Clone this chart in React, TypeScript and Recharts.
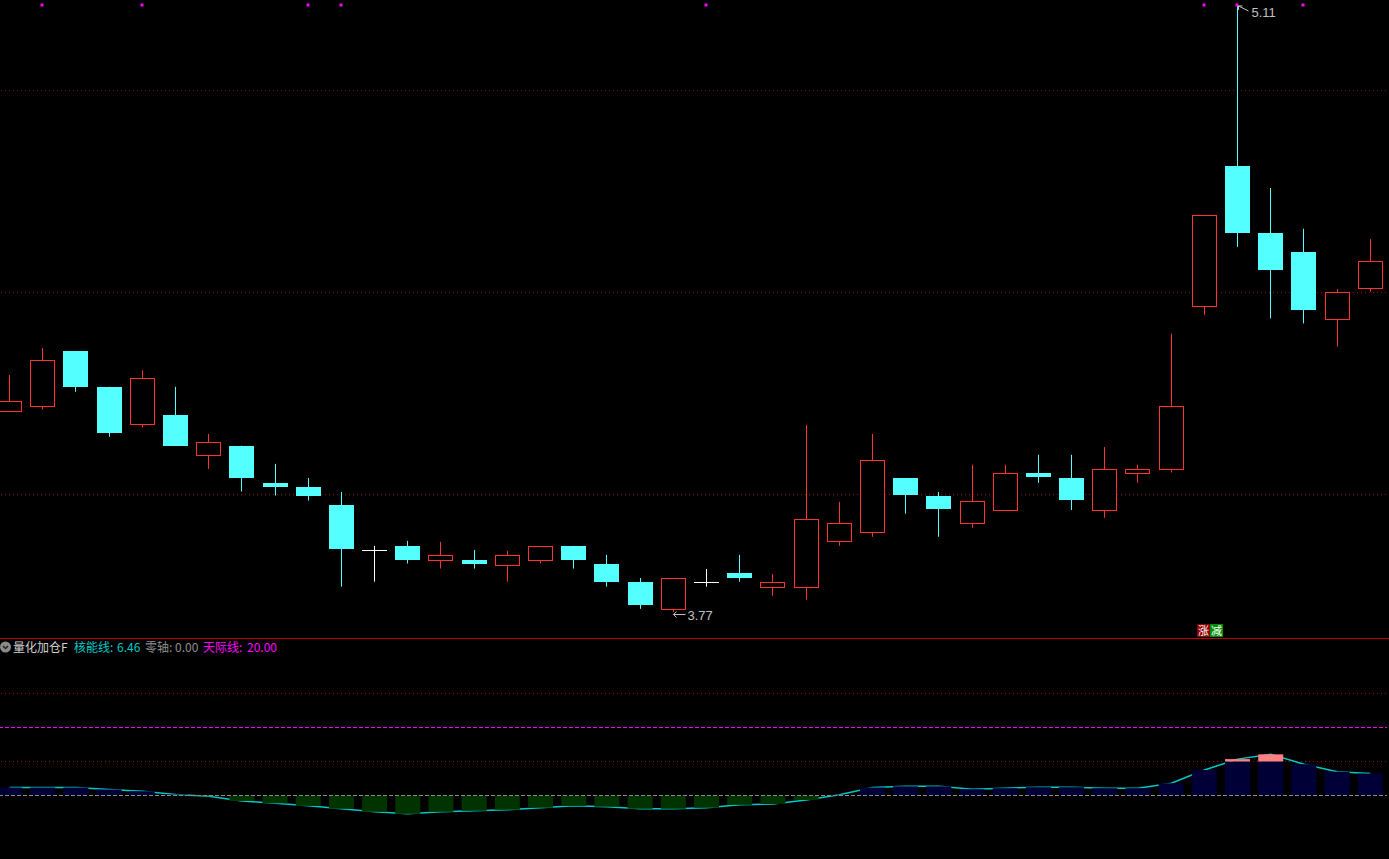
import { ComposedChart, Bar, Line, XAxis, YAxis, ReferenceLine, Cell } from 'recharts'

// daily OHLC
const opens = [4.215, 4.224, 4.346, 4.267, 4.184, 4.205, 4.116, 4.137, 4.055, 4.046, 4.006, 3.906, 3.916, 3.883, 3.885, 3.874, 3.883, 3.916, 3.876, 3.836, 3.775, 3.836, 3.856, 3.825, 3.825, 3.926, 3.946, 4.065, 4.025, 3.966, 3.995, 4.076, 4.066, 3.995, 4.076, 4.085, 4.445, 4.755, 4.607, 4.565, 4.416, 4.485]
const highs = [4.293, 4.353, 4.346, 4.267, 4.304, 4.267, 4.163, 4.137, 4.097, 4.066, 4.035, 3.916, 3.927, 3.925, 3.907, 3.905, 3.915, 3.916, 3.896, 3.845, 3.844, 3.865, 3.896, 3.854, 4.183, 4.013, 4.163, 4.065, 4.035, 4.095, 4.095, 4.117, 4.117, 4.134, 4.095, 4.384, 4.646, 5.11, 4.706, 4.616, 4.483, 4.593]
const lows = [4.215, 4.217, 4.256, 4.157, 4.177, 4.137, 4.086, 4.036, 4.027, 4.016, 3.826, 3.837, 3.877, 3.866, 3.866, 3.837, 3.877, 3.866, 3.826, 3.777, 3.77, 3.826, 3.837, 3.806, 3.797, 3.916, 3.936, 3.987, 3.936, 3.956, 3.995, 4.055, 3.995, 3.978, 4.055, 4.078, 4.426, 4.576, 4.418, 4.407, 4.356, 4.477]
const closes = [4.236, 4.326, 4.267, 4.166, 4.286, 4.137, 4.145, 4.067, 4.047, 4.027, 3.908, 3.906, 3.885, 3.895, 3.877, 3.895, 3.915, 3.885, 3.837, 3.786, 3.844, 3.836, 3.846, 3.836, 3.975, 3.966, 4.105, 4.027, 3.996, 4.014, 4.076, 4.067, 4.017, 4.085, 4.085, 4.224, 4.646, 4.607, 4.526, 4.437, 4.476, 4.544]

// 量化加仓F indicator: 核能线
const energy = [2.35, 2.35, 2.35, 1.76, 1.26, 0.3, -0.2, -1.6, -2.3, -3.05, -3.9, -4.8, -5.4, -4.8, -4.5, -4.2, -3.6, -3.05, -3.3, -3.9, -3.9, -3.6, -2.75, -2.5, -1.3, 0.2, 2.35, 2.7, 2.7, 1.85, 2.15, 2.45, 2.45, 2.15, 2.15, 3.6, 7.5, 10.7, 12.1, 9.2, 7.0, 6.46]

const signalDays = [1, 4, 9, 10, 21, 36, 37, 39]
const SIGNAL_PRICE = 5.11
const gridPrices = [4.029, 4.475, 4.921]
const SKY_LINE = 20
const CAP = 10
const subGrid = [10, 30]

const W = 1389
const MAIN_H = 638
const SUB_H = 220
const RED = '#ff3232'
const CYAN = '#54ffff'
const TEAL = '#00c8c8'
const margin = { top: 0, right: 2, bottom: 0, left: -7 }

const candles = opens.map((open, i) => ({
  day: i,
  open,
  high: highs[i],
  low: lows[i],
  close: closes[i],
  range: [lows[i], highs[i]],
  signal: signalDays.includes(i),
}))

const hiIdx = highs.indexOf(Math.max(...highs))
const loIdx = lows.indexOf(Math.min(...lows))

const energyRows = energy.map((v, i) => ({
  day: i,
  v,
  core: v > CAP ? CAP : v,
  excess: v > CAP ? v - CAP : 0,
}))

function Candle(props: any) {
  const { x, y, width, height, payload } = props
  const { open, high, low, close, day, signal } = payload
  const top = Math.min(y, y + height)
  const h = Math.abs(height)
  const toY = (p: number) => top + ((high - p) / (high - low)) * h
  const cx = Math.floor(x + width / 2) + 0.5
  const yo = toY(open)
  const yc = toY(close)
  const bTop = Math.min(yo, yc)
  const bBot = Math.max(yo, yc)
  const yh = toY(high)
  const yl = toY(low)
  const left = Math.round(x)
  const bw = Math.round(width)
  const parts: any[] = []

  if (Math.abs(close - open) < 0.0005) {
    parts.push(<line key="w" x1={cx} x2={cx} y1={yh} y2={yl} stroke="#fff" />)
    parts.push(<line key="b" x1={left} x2={left + bw} y1={Math.round(yo) + 0.5} y2={Math.round(yo) + 0.5} stroke="#fff" />)
  } else if (close > open) {
    if (bTop - yh > 0.5) parts.push(<line key="wt" x1={cx} x2={cx} y1={yh} y2={bTop} stroke={RED} />)
    if (yl - bBot > 0.5) parts.push(<line key="wb" x1={cx} x2={cx} y1={bBot} y2={yl} stroke={RED} />)
    parts.push(
      <rect key="b" x={left + 0.5} y={Math.round(bTop) + 0.5} width={bw - 1} height={Math.max(Math.round(bBot - bTop), 1)} fill="#000" stroke={RED} />
    )
  } else {
    parts.push(<line key="w" x1={cx} x2={cx} y1={yh} y2={yl} stroke={CYAN} />)
    parts.push(<rect key="b" x={left} y={Math.round(bTop)} width={bw} height={Math.max(Math.round(bBot - bTop), 2)} fill={CYAN} />)
  }

  if (signal) {
    const sy = toY(SIGNAL_PRICE)
    parts.push(<rect key="s" x={cx - 2} y={sy - 1.5} width={3} height={3} fill="#ff00ff" />)
  }

  if (day === hiIdx) {
    parts.push(
      <g key="hi" stroke="#c0c0c0" fill="none">
        <line x1={cx + 1} y1={yh + 1} x2={cx + 11} y2={yh + 6} />
        <polyline points={`${cx + 5},${yh + 1} ${cx + 1},${yh + 1} ${cx + 1},${yh + 5}`} />
      </g>
    )
    parts.push(
      <text key="hit" x={cx + 14} y={yh + 12} fill="#c0c0c0" fontSize={13} fontFamily="Liberation Sans, Arial, sans-serif">
        {high.toFixed(2)}
      </text>
    )
  }
  if (day === loIdx) {
    parts.push(
      <g key="lo" stroke="#c0c0c0" fill="none">
        <line x1={cx} y1={yl + 2.5} x2={cx + 12} y2={yl + 2.5} />
        <polyline points={`${cx + 3},${yl - 0.5} ${cx},${yl + 2.5} ${cx + 3},${yl + 5.5}`} />
      </g>
    )
    parts.push(
      <text key="lot" x={cx + 14} y={yl + 8} fill="#c0c0c0" fontSize={13} fontFamily="Liberation Sans, Arial, sans-serif">
        {low.toFixed(2)}
      </text>
    )
  }
  return <g>{parts}</g>
}

const cjk = '"Noto Sans CJK SC", "Noto Sans", sans-serif'

function Header() {
  const items = [
    { text: '量化加仓F', color: '#d0d0d0', left: 13 },
    { text: '核能线:', color: TEAL, left: 74 },
    { text: energy[energy.length - 1].toFixed(2), color: TEAL, left: 117 },
    { text: '零轴:', color: '#909090', left: 145 },
    { text: (0).toFixed(2), color: '#909090', left: 175 },
    { text: '天际线:', color: '#ff00ff', left: 203 },
    { text: SKY_LINE.toFixed(2), color: '#ff00ff', left: 247 },
  ]
  return (
    <div style={{ position: 'absolute', top: 639, left: 0, width: W, height: 16 }}>
      <svg width={12} height={14} style={{ position: 'absolute', left: 0, top: 1 }}>
        <circle cx={5.5} cy={7} r={5.5} fill="#8a8a8a" />
        <polyline points="3,6 5.5,8.5 8,6" fill="none" stroke="#222" strokeWidth={1.5} />
      </svg>
      {items.map((it) => (
        <span
          key={it.left}
          style={{ position: 'absolute', left: it.left, top: 0, color: it.color, fontSize: 12, lineHeight: '16px', fontFamily: cjk, whiteSpace: 'nowrap' }}
        >
          {it.text}
        </span>
      ))}
    </div>
  )
}

export default function App() {
  return (
    <div style={{ position: 'fixed', left: 0, top: 0, width: W, height: 859, background: '#000', overflow: 'hidden' }}>
      <div style={{ position: 'absolute', left: 0, top: 0 }}>
        <ComposedChart width={W} height={MAIN_H} data={candles} margin={margin}>
          <XAxis dataKey="day" hide />
          <YAxis hide domain={[3.7126, 5.121]} allowDataOverflow />
          {gridPrices.map((p) => (
            <ReferenceLine key={p} y={p} stroke="#961414" strokeDasharray="1 3" zIndex={100} />
          ))}
          <Bar dataKey="range" barSize={25} shape={(p: any) => <Candle {...p} />} isAnimationActive={false} />
        </ComposedChart>
      </div>
      <div style={{ position: 'absolute', left: 0, top: 638, width: W, height: 1, background: '#c00000' }} />
      <div style={{ position: 'absolute', left: 1197, top: 624, display: 'flex', fontFamily: cjk, fontSize: 11, lineHeight: '13px', color: '#fff' }}>
        <span style={{ background: '#8c0000', padding: '0 1px' }}>涨</span>
        <span style={{ background: '#008c00', padding: '0 1px' }}>减</span>
      </div>
      <div style={{ position: 'absolute', left: 0, top: 639 }}>
        <ComposedChart width={W} height={SUB_H} data={energyRows} margin={margin}>
          <XAxis dataKey="day" hide />
          <YAxis hide domain={[-18.676, 46.029]} allowDataOverflow />
          {subGrid.map((g) => (
            <ReferenceLine key={g} y={g} stroke="#961414" strokeDasharray="1 3" zIndex={100} />
          ))}
          <ReferenceLine y={SKY_LINE} stroke="#ff00ff" strokeDasharray="4 2" zIndex={100} />
          <Line dataKey="v" type="linear" stroke={TEAL} strokeWidth={1.5} dot={false} isAnimationActive={false} zIndex={200} />
          <Bar dataKey="core" stackId="e" barSize={25} isAnimationActive={false}>
            {energyRows.map((r) => (
              <Cell key={r.day} fill={r.v >= 0 ? '#000036' : '#003300'} />
            ))}
          </Bar>
          <Bar dataKey="excess" stackId="e" barSize={25} fill="#ff8080" isAnimationActive={false} />
          <ReferenceLine y={0} stroke="#8c8c8c" strokeDasharray="4 2" />
        </ComposedChart>
      </div>
      <Header />
    </div>
  )
}
